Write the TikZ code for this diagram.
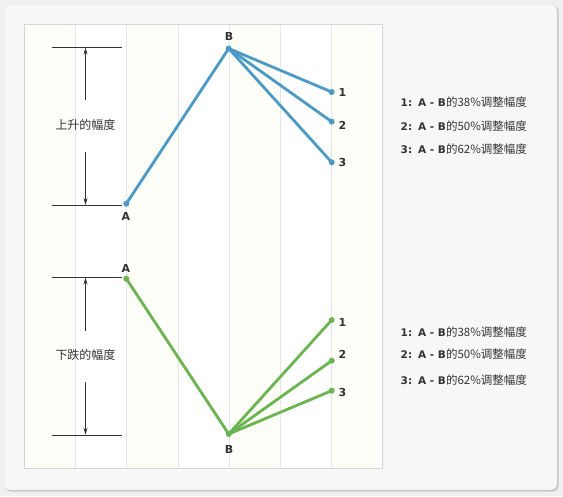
\documentclass[tikz,border=0pt]{standalone}
\usepackage{fontspec}
\setmainfont{Noto Sans CJK SC}
\newfontfamily\latb{DejaVu Sans}
\usetikzlibrary{arrows.meta}
\definecolor{outerbg}{HTML}{F0F0F0}
\definecolor{panelbg}{HTML}{F7F7F7}
\definecolor{panelline}{HTML}{DCDCDC}
\definecolor{shadowc}{HTML}{C4C4C4}
\definecolor{cream}{HTML}{FEFEF8}
\definecolor{gridc}{HTML}{E6E6E6}
\definecolor{framec}{HTML}{D6D6D6}
\definecolor{bluec}{HTML}{4A9AC8}
\definecolor{greenc}{HTML}{6AB550}
\definecolor{inkc}{HTML}{333333}
\tikzset{
  upline/.style={bluec, line width=2.8pt},
  downline/.style={greenc, line width=2.8pt},
  ptlabel/.style={inner sep=0pt, text=inkc, font=\latb\bfseries\fontsize{11}{12}\selectfont},
  dimline/.style={inkc, line width=0.8pt},
  dimarrow/.style={inkc, line width=0.8pt, -{Stealth[length=7pt,width=4pt]}},
  dimtext/.style={inner sep=0pt, text=inkc, font=\fontsize{12}{14}\selectfont},
  legend/.style={inner sep=0pt, anchor=west, text=inkc, font=\fontsize{11.5}{14}\selectfont},
}
\newcommand{\lgd}[2]{{\latb\bfseries\fontsize{10.5}{12}\selectfont #1:\hspace{6pt}A - B}的#2\%调整幅度}
\begin{document}
\begin{tikzpicture}[x=1pt,y=-1pt]
\useasboundingbox (0,0) rectangle (563,496);
\fill[outerbg] (0,0) rectangle (563,496);
% panel with shadow
\fill[shadowc, rounded corners=6pt] (5,5) rectangle (558.5,491.5);
\filldraw[fill=panelbg, draw=panelline, rounded corners=6pt] (4,4) rectangle (557,490);
% chart stripes
\fill[white] (24,24) rectangle (382,468);
\foreach \x in {24,126.3,229.3,331} {
  \fill[cream] (\x,24) rectangle ++(51.3,444);
}
\foreach \x in {75.7,126.3,178.7,229.3,280.3,331} {
  \draw[gridc, line width=0.8pt] (\x,24) -- (\x,468);
}
\draw[framec, line width=0.9pt] (24,24) rectangle (382,468);

% ===== top (rise) =====
\coordinate (uA) at (126.3,203.7);
\coordinate (uB) at (228.7,48.5);
\coordinate (u1) at (331.7,92);
\coordinate (u2) at (331.7,121.7);
\coordinate (u3) at (331.7,162.3);
\draw[upline, line cap=round, line join=round] (uA) -- (uB);
\draw[upline, line cap=round] (uB) -- (u1);
\draw[upline, line cap=round] (uB) -- (u2);
\draw[upline, line cap=round] (uB) -- (u3);
\foreach \p in {uA,uB,u1,u2,u3} \fill[bluec] (\p) circle (3pt);
\node[ptlabel] (luA) at (126,216) {A};
\node[ptlabel] (luB) at (229,36) {B};
\node[ptlabel] (lu1) at (342.5,92.7) {1};
\node[ptlabel] (lu2) at (342.5,125) {2};
\node[ptlabel] (lu3) at (342.5,162.3) {3};

\coordinate (dtL) at (52,47.3);  \coordinate (dtR) at (122,47.3);
\coordinate (dbL) at (52,205.3); \coordinate (dbR) at (122,205.3);
\draw[dimline] (dtL) -- (dtR);
\draw[dimline] (dbL) -- (dbR);
\node[dimtext] (utxt) at (85.5,125) {上升的幅度};
\coordinate (ua1) at (85.5,100); \coordinate (ua1e) at (85.5,47.6);
\coordinate (ua2) at (85.5,151.7); \coordinate (ua2e) at (85.5,205);
\draw[dimarrow] (ua1) -- (ua1e);
\draw[dimarrow] (ua2) -- (ua2e);

\node[legend] (lg1) at (400.5,102) {\lgd{1}{38}};
\node[legend] (lg2) at (400.5,125.7) {\lgd{2}{50}};
\node[legend] (lg3) at (400.5,149.3) {\lgd{3}{62}};

% ===== bottom (fall) =====
\coordinate (dA) at (126.3,278.7);
\coordinate (dB) at (228.7,434);
\coordinate (d1) at (331.7,320);
\coordinate (d2) at (331.7,360.7);
\coordinate (d3) at (331.7,390.7);
\draw[downline, line cap=round, line join=round] (dA) -- (dB);
\draw[downline, line cap=round] (dB) -- (d1);
\draw[downline, line cap=round] (dB) -- (d2);
\draw[downline, line cap=round] (dB) -- (d3);
\foreach \p in {dA,dB,d1,d2,d3} \fill[greenc] (\p) circle (3pt);
\node[ptlabel] (ldA) at (126,268.3) {A};
\node[ptlabel] (ldB) at (229,449) {B};
\node[ptlabel] (ld1) at (342.5,322.7) {1};
\node[ptlabel] (ld2) at (342.5,354.3) {2};
\node[ptlabel] (ld3) at (342.5,392.3) {3};

\coordinate (etL) at (52,277.3);  \coordinate (etR) at (122,277.3);
\coordinate (ebL) at (52,435); \coordinate (ebR) at (122,435);
\draw[dimline] (etL) -- (etR);
\draw[dimline] (ebL) -- (ebR);
\node[dimtext] (dtxt) at (85.5,355) {下跌的幅度};
\coordinate (da1) at (85.5,330.7); \coordinate (da1e) at (85.5,277.6);
\coordinate (da2) at (85.5,382); \coordinate (da2e) at (85.5,434.7);
\draw[dimarrow] (da1) -- (da1e);
\draw[dimarrow] (da2) -- (da2e);

\node[legend] (lh1) at (400.5,332.3) {\lgd{1}{38}};
\node[legend] (lh2) at (400.5,354.3) {\lgd{2}{50}};
\node[legend] (lh3) at (400.5,380) {\lgd{3}{62}};
\end{tikzpicture}
\end{document}
